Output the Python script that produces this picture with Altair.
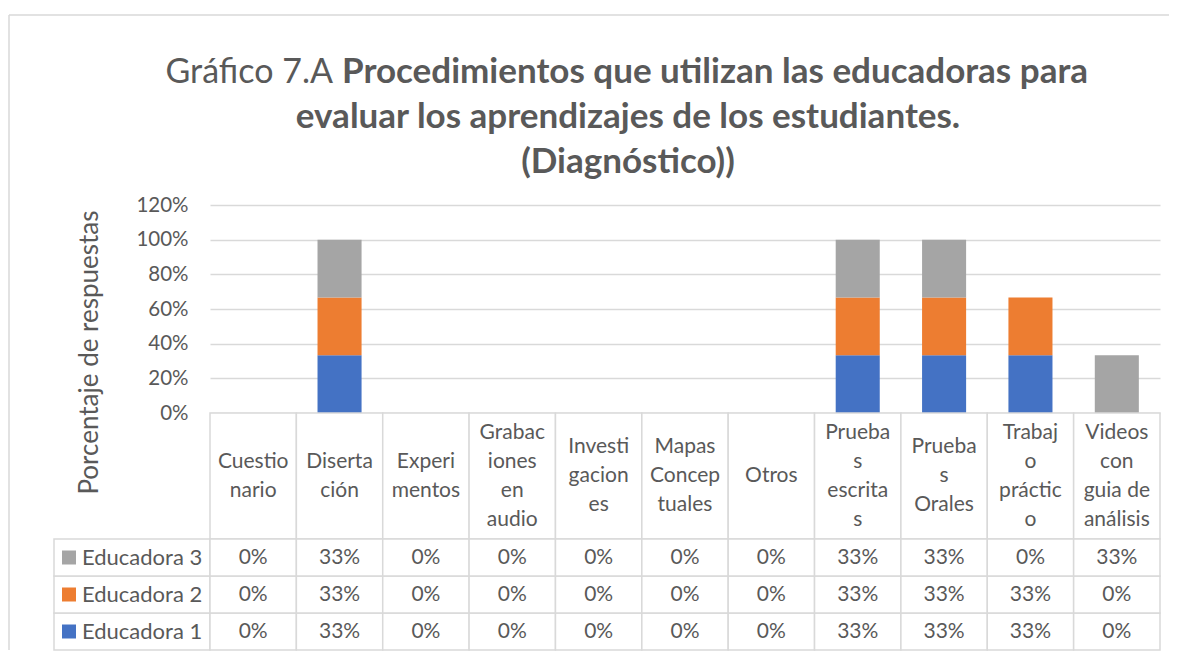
import altair as alt
import pandas as pd

# ---------------- data ----------------
categories = ["Cuestionario", "Disertación", "Experimentos", "Grabaciones en audio",
              "Investigaciones", "Mapas Conceptuales", "Otros", "Pruebas escritas",
              "Pruebas Orales", "Trabajo práctico", "Videos con guia de análisis"]
header_labels = ["Cuestio\nnario", "Diserta\nción", "Experi\nmentos", "Grabac\niones\nen\naudio",
                 "Investi\ngacion\nes", "Mapas\nConcep\ntuales", "Otros", "Prueba\ns\nescrita\ns",
                 "Prueba\ns\nOrales", "Trabaj\no\npráctic\no", "Videos\ncon\nguia de\nanálisis"]
series = ["Educadora 1", "Educadora 2", "Educadora 3"]
colors = ["#4472C4", "#ED7D31", "#A5A5A5"]
educadora_1 = [0, 0.3333, 0, 0, 0, 0, 0, 0.3333, 0.3333, 0.3333, 0]
educadora_2 = [0, 0.3333, 0, 0, 0, 0, 0, 0.3333, 0.3333, 0.3333, 0]
educadora_3 = [0, 0.3333, 0, 0, 0, 0, 0, 0.3333, 0.3333, 0, 0.3333]
y_ticks = [0, 0.2, 0.4, 0.6, 0.8, 1.0, 1.2]
title_prefix = "Gráfico 7.A"
title_bold_1 = "Procedimientos que utilizan las educadoras para"
title_bold_rest = "evaluar los aprendizajes de los estudiantes.\n(Diagnóstico))"
y_title = "Porcentaje de respuestas"

rows = []
for s_i, (s, vals) in enumerate(zip(series, [educadora_1, educadora_2, educadora_3])):
    for c, v in zip(categories, vals):
        rows.append({"cat": c, "serie": s, "val": v, "orden": s_i})
df = pd.DataFrame(rows)

hdr_rows = []
for c, lab in zip(categories, header_labels):
    parts = lab.split("\n")
    n = len(parts)
    for i, p in enumerate(parts):
        hdr_rows.append({"cat": c, "line": p, "pos": (n - 1) / 2 - i})
hdr_df = pd.DataFrame(hdr_rows)

# ---------------- style ----------------
FONT = "Lato"
GRAY = "#595959"
GRID = "#d9d9d9"
W = 950
BAR_H = 208
HDR_H = 126
ROW_H = 111
LEG_W = 156
CELL_FS = 21
LINE_H = 29

x_enc = alt.X("cat:N", sort=categories,
              scale=alt.Scale(paddingInner=0, paddingOuter=0), axis=None)
color_scale = alt.Scale(domain=series, range=colors)
y_rows = alt.Y("serie:N", sort=series[::-1],
               scale=alt.Scale(paddingInner=0, paddingOuter=0), axis=None)

# ---------------- bar chart ----------------
bars = alt.Chart(df).mark_bar(width=alt.RelativeBandSize(0.51)).encode(
    x=x_enc,
    y=alt.Y("val:Q", stack="zero",
            scale=alt.Scale(domain=[0, 1.2], nice=False),
            axis=alt.Axis(values=y_ticks, format=".0%", grid=True, gridColor=GRID,
                          gridWidth=1.5, domain=False, ticks=False, labelPadding=22,
                          labelFontSize=20.5, labelFont=FONT, labelColor=GRAY,
                          title=y_title, titleFont=FONT, titleFontSize=26,
                          titleFontWeight="normal", titleColor=GRAY,
                          titleX=-121, titleY=147, titleAlign="center",
                          titleBaseline="middle")),
    color=alt.Color("serie:N", scale=color_scale, legend=None),
    order=alt.Order("orden:Q", sort="ascending"),
)

t_prefix = alt.Chart(pd.DataFrame({"t": [title_prefix]})).mark_text(
    align="right", baseline="alphabetic", font=FONT, fontSize=34, color=GRAY
).encode(text="t:N", x=alt.value(332 - 209), y=alt.value(82 - 204))

t_bold1 = alt.Chart(pd.DataFrame({"t": [title_bold_1]})).mark_text(
    align="left", baseline="alphabetic", font=FONT, fontSize=35, fontWeight="bold", color=GRAY
).encode(text="t:N", x=alt.value(341 - 209), y=alt.value(82 - 204))

t_bold2 = alt.Chart(pd.DataFrame({"t": [title_bold_rest]})).mark_text(
    align="center", baseline="alphabetic", font=FONT, fontSize=35, fontWeight="bold",
    color=GRAY, lineBreak="\n", lineHeight=45
).encode(text="t:N", x=alt.value(627 - 209), y=alt.value(127 - 204))

bar_panel = alt.layer(bars, t_prefix, t_bold1, t_bold2).properties(width=W, height=BAR_H)

# ---------------- table header ----------------
half = HDR_H / 2 / LINE_H
hdr_cells = pd.DataFrame({"cat": categories})
hdr_rect = alt.Chart(hdr_cells).mark_rect(fill="white", stroke=GRID, strokeWidth=1.5).encode(x=x_enc)
hdr_text = alt.Chart(hdr_df).mark_text(
    font=FONT, fontSize=CELL_FS, color=GRAY, baseline="middle"
).encode(x=x_enc,
         y=alt.Y("pos:Q", scale=alt.Scale(domain=[-half, half], nice=False, zero=False), axis=None),
         text="line:N")
header = alt.layer(hdr_rect, hdr_text).properties(width=W, height=HDR_H)

# ---------------- table rows ----------------
rows_rect = alt.Chart(df).mark_rect(fill="white", stroke=GRID, strokeWidth=1.5).encode(
    x=x_enc, y=y_rows)
rows_text = alt.Chart(df).mark_text(
    font=FONT, fontSize=CELL_FS, color=GRAY, baseline="middle"
).encode(x=x_enc, y=y_rows, text=alt.Text("val:Q", format=".0%"))
table_rows = alt.layer(rows_rect, rows_text).properties(width=W, height=ROW_H)

# ---------------- legend column ----------------
leg_df = pd.DataFrame({"serie": series})
leg_rect = alt.Chart(leg_df).mark_rect(fill="white", stroke=GRID, strokeWidth=1.5).encode(y=y_rows)
leg_sq = alt.Chart(leg_df).mark_square(size=196, opacity=1).encode(
    y=y_rows, x=alt.value(15),
    color=alt.Color("serie:N", scale=color_scale, legend=None))
leg_text = alt.Chart(leg_df).mark_text(
    align="left", baseline="middle", font=FONT, fontSize=22, color=GRAY
).encode(y=y_rows, x=alt.value(28), text="serie:N")
legend_col = alt.layer(leg_rect, leg_sq, leg_text).properties(width=LEG_W, height=ROW_H)

# ---------------- outer frame + blank cell ----------------
frame_df = pd.DataFrame({"f": [0]})
frame_top = alt.Chart(frame_df).mark_rule(color=GRID, strokeWidth=1.5).encode(
    x=alt.value(-45), x2=alt.value(1115), y=alt.value(-190))
frame_left = alt.Chart(frame_df).mark_rule(color=GRID, strokeWidth=1.5).encode(
    x=alt.value(-45), y=alt.value(-190), y2=alt.value(445))
frame_cell = alt.layer(frame_top, frame_left).properties(width=LEG_W, height=BAR_H)
blank_cell = alt.Chart(frame_df).mark_point(opacity=0).properties(width=LEG_W, height=HDR_H)

chart = alt.concat(
    frame_cell, bar_panel,
    blank_cell, header,
    legend_col, table_rows,
    columns=2, spacing=0, bounds="flush"
).properties(
    padding={"left": 0, "top": 6, "right": 0, "bottom": 0}
).configure(font=FONT).configure_view(stroke=None)

chart.save("out.html", embed_options={"renderer": "svg", "actions": False})
